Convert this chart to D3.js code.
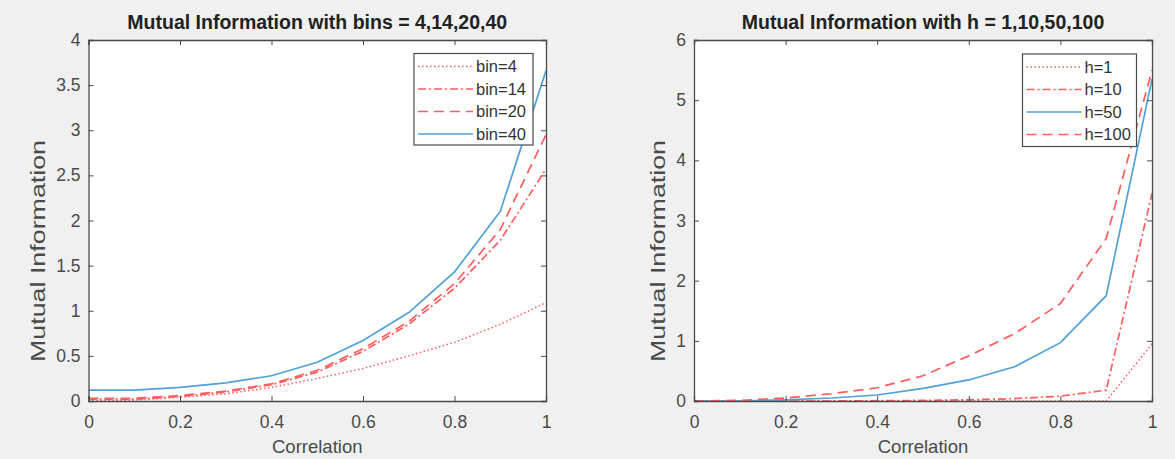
<!DOCTYPE html>
<html><head><meta charset="utf-8">
<script src="https://cdn.jsdelivr.net/npm/d3@7"></script>
<style>
html,body{margin:0;padding:0;background:#f0f0f0;}
svg{display:block;}
text{font-family:"Liberation Sans",Arial,sans-serif;}
</style></head>
<body>
<svg id="chart" width="1175" height="459"></svg>
<script>
// ---- data ----
const correlation = [0, 0.1, 0.2, 0.3, 0.4, 0.5, 0.6, 0.7, 0.8, 0.9, 1.0];
const xTicks = [0, 0.2, 0.4, 0.6, 0.8, 1];

const leftTitle = "Mutual Information with bins = 4,14,20,40";
const leftNames = ["bin=4", "bin=14", "bin=20", "bin=40"];
const bin4  = [0.0, 0.01, 0.04, 0.08, 0.15, 0.25, 0.36, 0.50, 0.65, 0.85, 1.09];
const bin14 = [0.02, 0.02, 0.05, 0.10, 0.18, 0.32, 0.55, 0.85, 1.25, 1.78, 2.57];
const bin20 = [0.03, 0.03, 0.06, 0.11, 0.19, 0.34, 0.58, 0.88, 1.30, 1.90, 2.95];
const bin40 = [0.12, 0.12, 0.15, 0.20, 0.28, 0.43, 0.67, 0.98, 1.43, 2.10, 3.66];
const leftYTicks = [0, 0.5, 1, 1.5, 2, 2.5, 3, 3.5, 4];

const rightTitle = "Mutual Information with h = 1,10,50,100";
const rightNames = ["h=1", "h=10", "h=50", "h=100"];
const h1   = [0, 0, 0, 0, 0, 0, 0, 0, 0, 0, 0.95];
const h10  = [0, 0, 0, 0, 0.005, 0.01, 0.02, 0.04, 0.08, 0.18, 3.45];
const h50  = [0, 0, 0.02, 0.05, 0.10, 0.21, 0.35, 0.57, 0.97, 1.75, 5.35];
const h100 = [0, 0.01, 0.05, 0.12, 0.22, 0.42, 0.75, 1.12, 1.62, 2.70, 5.50];
const rightYTicks = [0, 1, 2, 3, 4, 5, 6];

const xLabel = "Correlation";
const yLabel = "Mutual Information";

// ---- styles ----
const RED = "#ff5c5c", BLUE = "#4fa1d8";
const styles = {
  dotted:  {color: RED,  dash: "1.5,2.5", width: 1.5},
  dashdot: {color: RED,  dash: "8,3,2,3", width: 1.7},
  dashed:  {color: RED,  dash: "10,6",    width: 1.7},
  solid:   {color: BLUE, dash: null,      width: 1.7}
};

const svg = d3.select("#chart");

function panel(opts) {
  const {left, right, top, bottom, yMax, yTicks, title, names, series, styleKeys, legend, yLabelX} = opts;
  const x = d3.scaleLinear().domain([0, 1]).range([left, right]);
  const y = d3.scaleLinear().domain([0, yMax]).range([bottom, top]);
  const g = svg.append("g");

  g.append("rect").attr("x", left).attr("y", top)
    .attr("width", right - left).attr("height", bottom - top).attr("fill", "#fff");

  const clipId = "clip" + Math.round(left);
  g.append("clipPath").attr("id", clipId).append("rect")
    .attr("x", left).attr("y", top - 1).attr("width", right - left + 1).attr("height", bottom - top + 2);

  const line = d3.line().x((d, i) => x(correlation[i])).y(d => y(d));
  const lg = g.append("g").attr("clip-path", `url(#${clipId})`);
  series.forEach((s, k) => {
    const st = styles[styleKeys[k]];
    lg.append("path").datum(s).attr("d", line).attr("fill", "none")
      .attr("stroke", st.color).attr("stroke-width", st.width)
      .attr("stroke-dasharray", st.dash);
  });

  const axisColor = "#4a4a4a";
  const tickLen = 5;
  const ax = g.append("g").attr("transform", `translate(0,${bottom})`)
    .call(d3.axisBottom(x).tickValues(xTicks).tickSize(-tickLen).tickPadding(10 + tickLen).tickFormat(d3.format("~g")));
  const axT = g.append("g").attr("transform", `translate(0,${top})`)
    .call(d3.axisTop(x).tickValues(xTicks).tickSize(-tickLen).tickFormat(""));
  const ay = g.append("g").attr("transform", `translate(${left},0)`)
    .call(d3.axisLeft(y).tickValues(yTicks).tickSize(-tickLen).tickPadding(8).tickFormat(d3.format("~g")));
  const ayR = g.append("g").attr("transform", `translate(${right},0)`)
    .call(d3.axisRight(y).tickValues(yTicks).tickSize(-tickLen).tickFormat(""));
  [ax, axT, ay, ayR].forEach(a => {
    a.selectAll("path.domain").attr("stroke", axisColor).attr("stroke-width", 1.3);
    a.selectAll(".tick line").attr("stroke", axisColor).attr("stroke-width", 1);
    a.selectAll(".tick text").attr("fill", "#4a4a4a").style("font-size", "17.5px")
      .style("font-family", "'Liberation Sans', Arial, sans-serif");
  });

  // title
  g.append("text").attr("x", (left + right) / 2).attr("y", 29)
    .attr("text-anchor", "middle").attr("fill", "#222")
    .style("font-size", "19.5px").style("font-weight", "bold").text(title);
  // x label
  g.append("text").attr("x", (left + right) / 2).attr("y", bottom + 52)
    .attr("text-anchor", "middle").attr("fill", "#4a4a4a")
    .style("font-size", "18.5px").text(xLabel);
  // y label
  g.append("text").attr("transform", `translate(${yLabelX},251) rotate(-90)`)
    .attr("text-anchor", "middle").attr("fill", "#4a4a4a")
    .attr("textLength", 222).attr("lengthAdjust", "spacingAndGlyphs")
    .style("font-size", "21px").text(yLabel);

  // legend
  const L = legend;
  const lgd = g.append("g");
  lgd.append("rect").attr("x", L.x).attr("y", L.y).attr("width", L.w).attr("height", L.h)
    .attr("fill", "#fff").attr("stroke", "#4a4a4a").attr("stroke-width", 1.2);
  names.forEach((n, k) => {
    const st = styles[styleKeys[k]];
    const yy = L.y + 13 + k * 22.5;
    lgd.append("line").attr("x1", L.x + 4).attr("x2", L.x + 59).attr("y1", yy).attr("y2", yy)
      .attr("stroke", st.color).attr("stroke-width", st.width).attr("stroke-dasharray", st.dash);
    lgd.append("text").attr("x", L.x + 62).attr("y", yy).attr("dy", "0.36em")
      .attr("fill", "#333").style("font-size", "16.5px").text(n);
  });
}

panel({left: 88.5, right: 546, top: 40, bottom: 401, yMax: 4, yTicks: leftYTicks,
  title: leftTitle, names: leftNames, series: [bin4, bin14, bin20, bin40],
  styleKeys: ["dotted", "dashdot", "dashed", "solid"], yLabelX: 45,
  legend: {x: 414, y: 53.5, w: 119, h: 91.5}});

panel({left: 694, right: 1152, top: 40, bottom: 401, yMax: 6, yTicks: rightYTicks,
  title: rightTitle, names: rightNames, series: [h1, h10, h50, h100],
  styleKeys: ["dotted", "dashdot", "solid", "dashed"], yLabelX: 665,
  legend: {x: 1022.5, y: 54, w: 114, h: 92.5}});
</script>
</body></html>
